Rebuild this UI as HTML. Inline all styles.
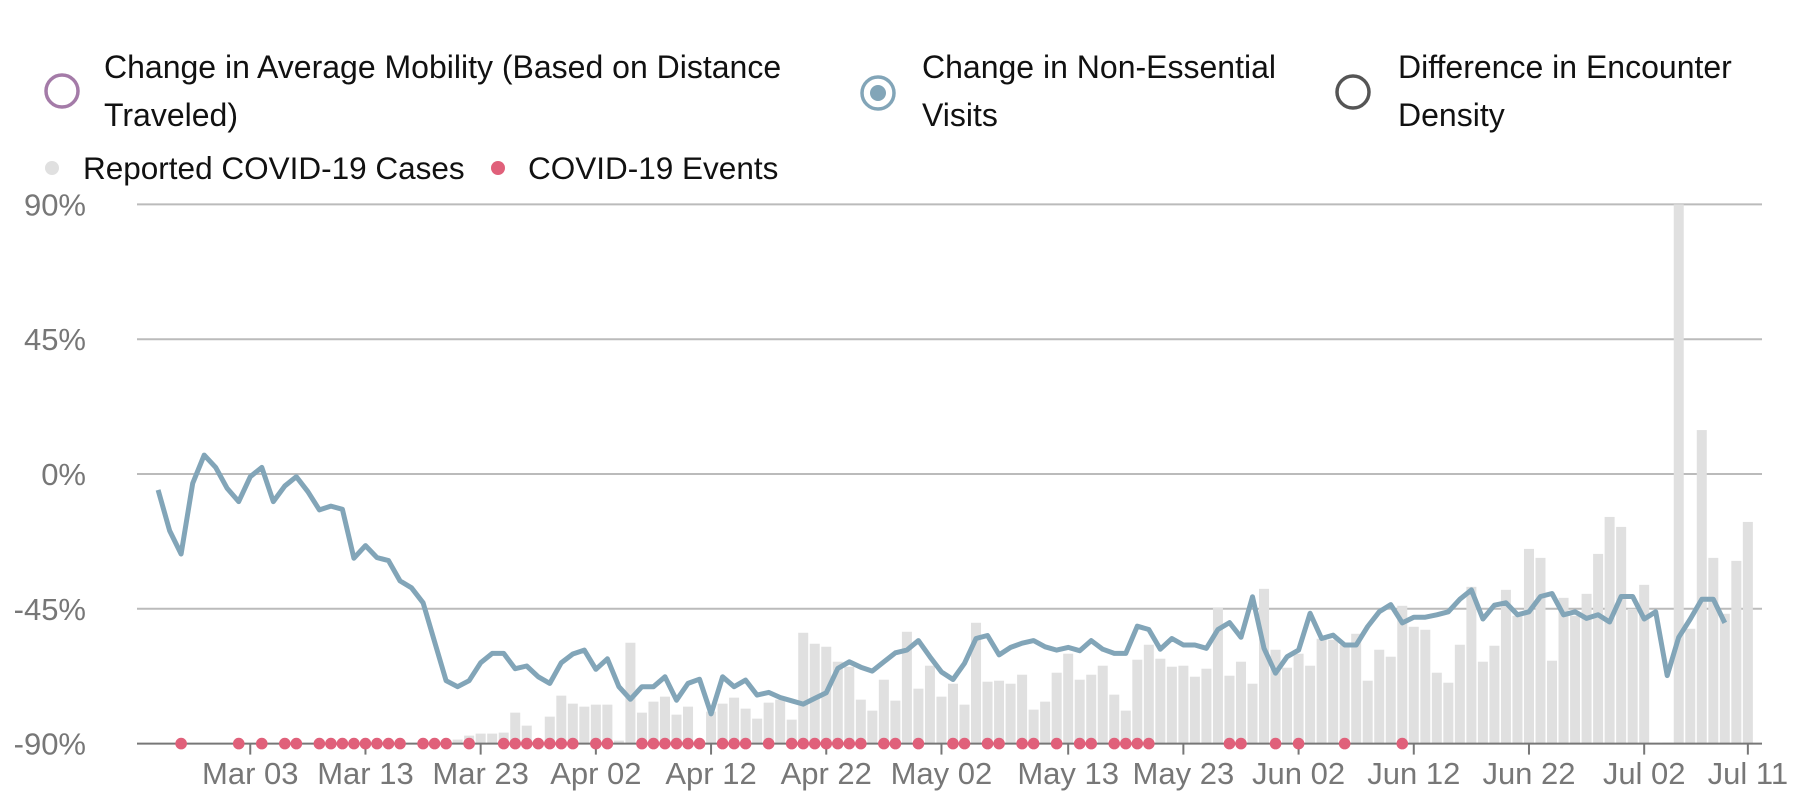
<!DOCTYPE html>
<html><head><meta charset="utf-8"><style>
html,body{margin:0;padding:0;background:#fff;}
svg{display:block;font-family:"Liberation Sans",Arial,sans-serif;}
</style></head><body>
<svg id="chart" width="1794" height="802" viewBox="0 0 1794 802" xmlns="http://www.w3.org/2000/svg">
<g>
 <g>
  <circle cx="62" cy="91" r="16" fill="none" stroke="#a47ba8" stroke-width="3.5"/>
  <text x="104" y="78" font-size="32" fill="#111">Change in Average Mobility (Based on Distance</text>
  <text x="104" y="126" font-size="32" fill="#111">Traveled)</text>
 </g>
 <g>
  <circle cx="878" cy="93" r="16" fill="none" stroke="#82a5b8" stroke-width="3.5"/>
  <circle cx="878" cy="93" r="8" fill="#82a5b8"/>
  <text x="922" y="78" font-size="32" fill="#111">Change in Non-Essential</text>
  <text x="922" y="126" font-size="32" fill="#111">Visits</text>
 </g>
 <g>
  <circle cx="1353" cy="92" r="16" fill="none" stroke="#555" stroke-width="3.5"/>
  <text x="1398" y="78" font-size="32" fill="#111">Difference in Encounter</text>
  <text x="1398" y="126" font-size="32" fill="#111">Density</text>
 </g>
 <g>
  <circle cx="52" cy="168" r="7" fill="#e0e0e0"/>
  <text x="83" y="179" font-size="31.5" fill="#111">Reported COVID-19 Cases</text>
 </g>
 <g>
  <circle cx="498" cy="168" r="7" fill="#e0607a"/>
  <text x="528" y="179" font-size="31.5" fill="#111">COVID-19 Events</text>
 </g>
</g>
<g id="grid"></g>
<g id="ylabels"></g>
<g id="bars"></g>
<g id="line"></g>
<g id="xaxis"></g>
<g id="events"></g>
</svg>
<script>
const yTicks = [90, 45, 0, -45, -90];
const yTickLabels = ["90%", "45%", "0%", "-45%", "-90%"];
const xTickDays = [8, 18, 28, 38, 48, 58, 68, 79, 89, 99, 109, 119, 129, 138];
const xTickLabels = ["Mar 03","Mar 13","Mar 23","Apr 02","Apr 12","Apr 22","May 02","May 13","May 23","Jun 02","Jun 12","Jun 22","Jul 02","Jul 11"];
const visits = [-5.3,-18.9,-26.7,-3.1,6.3,2.2,-4.8,-9.2,-0.9,2.2,-9.2,-4,-0.9,-5.9,-12,-10.7,-11.8,-28.1,-23.9,-27.9,-28.9,-35.7,-38,-43,
-56,-69,-71,-69,-63,-59.9,-59.9,-65,-64.1,-67.7,-69.9,-63,-60.1,-58.8,-65.2,-61.7,-71,-75.2,-71,-71,-67.7,-75.5,-69.9,-68.5,-80.1,-67.7,-71,-68.8,-73.8,-72.9,-74.6,-75.7,-76.8,-74.9,-73,-64.9,-62.7,-64.5,-65.8,-62.7,-59.7,
-58.8,-55.6,-61,-66.1,-68.6,-63.2,-54.9,-53.9,-60.4,-57.9,-56.5,-55.6,-57.7,-58.8,-57.9,-59,-55.6,-58.5,-59.9,-59.9,-50.8,-51.9,-58.5,-54.9,-57.1,-57.1,-58.2,-51.9,-49.6,-54.5,-41,-58.2,-66.5,-61,-58.8,-46.5,-54.9,-53.8,-57.1,-57.1,
-50.9,-46,-43.6,-49.7,-47.8,-47.8,-47,-46,-41.8,-38.7,-48.4,-43.8,-43,-47,-46,-40.9,-39.9,-47,-46,-48.2,-47,-49.4,-40.9,-40.9,-48.4,-46,-67.3,-54.5,-48.4,-41.8,-41.8,-49.7];
const cases = [0,0,0,0,0,0,0,0,0,0,0,0,0,0,0,0,0,0,0,0,0,0,0,0,1,2,
4,8,10,10,11,31,18,0,27,48,40,37,39,39,3,101,31,42,47,29,37,0,32,40,46,35,25,41,44,24,111,100,97,82,77,44,33,64,43,
112,55,78,47,60,39,121,62,63,60,69,34,42,71,90,64,69,78,49,33,84,99,85,77,78,67,75,136,68,82,60,155,94,76,90,78,105,104,99,110,
63,94,87,138,117,114,71,61,99,157,82,98,154,128,195,186,83,146,128,150,190,227,217,135,159,0,1,540,115,314,186,130,183,222];
const eventDays = [2,7,9,11,12,14,15,16,17,18,19,20,21,23,24,25,27,30,31,32,33,34,35,36,38,39,42,43,44,45,46,47,49,50,51,53,55,56,57,58,59,60,61,63,64,66,69,70,72,73,75,76,78,80,81,83,84,85,86,93,94,97,99,103,108];
const casesMax = 540;

const NS = "http://www.w3.org/2000/svg";
const X0 = 158.1, DAY = 11.52, LEFT = 137, RIGHT = 1762;
const Y_TOP = 204.4, Y_BOT = 743.6;
function xScale(d){ return X0 + d * DAY; }
function yScale(v){ return Y_BOT - (v + 90) / 180 * (Y_BOT - Y_TOP); }
function cScale(c){ return c / casesMax * (Y_BOT - Y_TOP); }
function mk(tag, attrs, parent){ const e = document.createElementNS(NS, tag); for (const k in attrs) e.setAttribute(k, attrs[k]); parent.appendChild(e); return e; }

const grid = document.getElementById('grid'), ylab = document.getElementById('ylabels');
yTicks.forEach((t, i) => {
  if (t !== -90) {
    const l = mk('line', {x1: LEFT, x2: RIGHT, y1: yScale(t), y2: yScale(t), stroke: '#bbb', 'stroke-width': 2}, grid);
    
    
  }
  const tx = mk('text', {x: 86, y: yScale(t) + 11, 'text-anchor': 'end', 'font-size': 31, fill: '#777'}, ylab);
  tx.textContent = yTickLabels[i];
  
  
});

const bars = document.getElementById('bars');
cases.forEach((c, i) => {
  if (c <= 0) return;
  const h = cScale(c);
  const r = mk('rect', {x: xScale(i) - 5, y: Y_BOT - h, width: 10, height: h, fill: '#e0e0e0'}, bars);
  
  
});

const lineG = document.getElementById('line');
const pts = visits.map((v, i) => xScale(i).toFixed(1) + ',' + yScale(v).toFixed(1)).join(' ');
const pl = mk('polyline', {points: pts, fill: 'none', stroke: '#82a5b8', 'stroke-width': 5, 'stroke-linejoin': 'round'}, lineG);



const xa = document.getElementById('xaxis');
const base = mk('line', {x1: LEFT, x2: RIGHT, y1: Y_BOT, y2: Y_BOT, stroke: '#777', 'stroke-width': 2}, xa);


xTickDays.forEach((d, i) => {
  const x = xScale(d);
  const tk = mk('line', {x1: x, x2: x, y1: Y_BOT, y2: Y_BOT + 11, stroke: '#777', 'stroke-width': 2}, xa);
  
  
  const tx = mk('text', {x: x, y: 784, 'text-anchor': 'middle', 'font-size': 31, fill: '#777'}, xa);
  tx.textContent = xTickLabels[i];
  
  
});

const ev = document.getElementById('events');
eventDays.forEach(d => {
  const c = mk('circle', {cx: xScale(d), cy: Y_BOT, r: 5.8, fill: '#e0607a'}, ev);
  
  
});
</script>
</body></html>
